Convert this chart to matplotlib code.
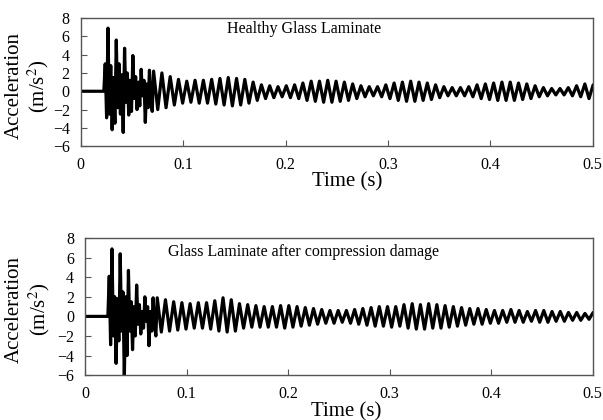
import numpy as np
import matplotlib
matplotlib.use("Agg")
import matplotlib.pyplot as plt

plt.rcParams['font.family'] = ['Liberation Serif', 'DejaVu Serif']
plt.rcParams['mathtext.fontset'] = 'stix'

# onset of the impact response (s), spacing of turning points
t_onset = 0.0225
dt_burst = 0.00135      # turning points inside the initial burst
period = 0.0081         # main ringing period after the burst

# turning points of the first ~50 ms (dense burst)
healthy_burst = [0.0, 3.0, -2.9, 6.9, -2.5, 2.8, -4.2, 1.5, -3.5, 5.6, -1.8, 3.0,
                 -2.5, 1.8, -4.5, 4.7, -1.2, 2.0, -2.6, 1.2, -2.2, 3.9, -0.8, 1.6,
                 -2.0, 1.0, -1.6, 2.4, -0.5, 1.2, -3.4, 0.8, -1.8, 2.3, -0.8, -2.2]
damaged_burst = [0.0, 4.1, -2.9, 6.9, -2.0, 2.0, -4.8, 1.8, -2.5, 6.4, -1.5, 2.5,
                 -6.3, 2.0, -4.0, 4.7, -1.5, 1.5, -3.4, 1.0, -2.0, 3.2, -0.8, 1.2,
                 -1.8, 0.5, -1.2, 2.0, -0.5, 1.0, -3.0, 0.5, -1.5, 1.9, -0.8, -2.0]

# per-cycle maxima / minima of the ringing after the burst
healthy_peaks = [2.2, 2.0, 1.6, 1.3, 1.1, 1.2, 1.2, 1.3, 1.4, 1.5, 1.4, 1.3, 1.0,
                 0.7, 0.6, 0.5, 0.6, 0.7, 0.9, 1.1, 1.1, 1.2, 1.1, 1.0, 0.8, 0.6,
                 0.5, 0.5, 0.7, 0.9, 1.0, 1.1, 1.0, 0.9, 0.7, 0.5, 0.4, 0.4, 0.5,
                 0.7, 0.8, 0.9, 1.0, 1.0, 0.9, 0.8, 0.6, 0.4, 0.3, 0.3, 0.4, 0.6,
                 0.8, 0.7]
healthy_troughs = [-2.0, -1.8, -1.5, -1.3, -1.2, -1.3, -1.3, -1.4, -1.5, -1.6, -1.5,
                   -1.3, -1.0, -0.8, -0.7, -0.6, -0.7, -0.8, -1.0, -1.1, -1.2, -1.2,
                   -1.1, -1.0, -0.8, -0.6, -0.5, -0.6, -0.8, -1.0, -1.1, -1.1, -1.0,
                   -0.9, -0.7, -0.5, -0.5, -0.5, -0.6, -0.8, -0.9, -1.0, -1.0, -1.0,
                   -0.9, -0.8, -0.6, -0.5, -0.4, -0.4, -0.5, -0.6, -0.8, -0.7]
damaged_peaks = [1.9, 1.7, 1.5, 1.4, 1.3, 1.4, 1.4, 1.6, 1.9, 1.7, 1.3, 1.2, 1.1,
                 1.0, 1.0, 1.1, 1.1, 1.0, 0.9, 0.8, 0.7, 0.6, 0.6, 0.6, 0.7, 0.8,
                 0.9, 1.0, 1.0, 1.0, 1.2, 1.3, 1.2, 1.3, 1.2, 1.1, 1.0, 0.9, 0.8,
                 0.8, 0.7, 0.6, 0.6, 0.7, 0.6, 0.5, 0.6, 0.6, 0.5, 0.5, 0.4, 0.4,
                 0.3, 0.4]
damaged_troughs = [-1.6, -1.5, -1.4, -1.3, -1.2, -1.2, -1.3, -1.5, -1.6, -1.5, -1.2,
                   -1.1, -1.1, -1.1, -1.1, -1.2, -1.1, -1.0, -0.9, -0.8, -0.7, -0.7,
                   -0.6, -0.7, -0.8, -0.9, -1.0, -1.0, -1.1, -1.0, -1.2, -1.3, -1.3,
                   -1.2, -1.2, -1.1, -1.0, -0.9, -0.8, -0.8, -0.7, -0.7, -0.6, -0.6,
                   -0.6, -0.5, -0.6, -0.6, -0.5, -0.5, -0.4, -0.4, -0.3, -0.4]

titles = ["Healthy Glass Laminate", "Glass Laminate after compression damage"]
x_ticks = [0, 0.1, 0.2, 0.3, 0.4, 0.5]
x_ticklabels = ["0", "0.1", "0.2", "0.3", "0.4", "0.5"]
y_ticks = [-6, -4, -2, 0, 2, 4, 6, 8]


def build_signal(burst, peaks, troughs):
    t_b = t_onset + np.arange(len(burst)) * dt_burst
    t0 = t_b[-1] + dt_burst
    main = np.ravel(np.column_stack([peaks, troughs]))
    t_m = t0 + np.arange(len(main)) * period / 2
    t = np.concatenate([[0.0], t_b, t_m])
    y = np.concatenate([[0.0], burst, main])
    return t, y


signals = [build_signal(healthy_burst, healthy_peaks, healthy_troughs),
           build_signal(damaged_burst, damaged_peaks, damaged_troughs)]

fig = plt.figure(figsize=(6.03, 4.2), dpi=100)
boxes = [[0.134, 0.652, 0.849, 0.305], [0.141, 0.107, 0.842, 0.326]]
title_pos = [(0.285, 0.914), (0.163, 0.898)]
xlab_pos = [(0.52, -0.20), (0.515, -0.195)]
ylab_pos = [(-0.058, 0.47), (-0.066, 0.48)]

for k in range(2):
    ax = fig.add_axes(boxes[k])
    t, y = signals[k]
    ax.plot(t, y, color='black', lw=2.3, solid_joinstyle='round')
    ax.set_xlim(0, 0.5)
    ax.set_ylim(-6, 8)
    ax.set_xticks(x_ticks)
    ax.set_xticklabels(x_ticklabels)
    ax.set_yticks(y_ticks)
    ax.tick_params(direction='in', length=4, width=0.8, color='#555555',
                   labelsize=11.5, top=False, right=False)
    ax.tick_params(axis='x', pad=8)
    ax.tick_params(axis='y', pad=8)
    for s in ax.spines.values():
        s.set_color('#555555')
        s.set_linewidth(1.0)
    ax.text(title_pos[k][0], title_pos[k][1], titles[k], transform=ax.transAxes,
            fontsize=11.5, va='center', ha='left')
    ax.set_xlabel("Time (s)", fontsize=15)
    ax.xaxis.set_label_coords(*xlab_pos[k])
    ax.set_ylabel("Acceleration\n(m/s$^2$)", fontsize=15, linespacing=1.1)
    ax.yaxis.set_label_coords(*ylab_pos[k])

fig.savefig("out.png", dpi=100)
